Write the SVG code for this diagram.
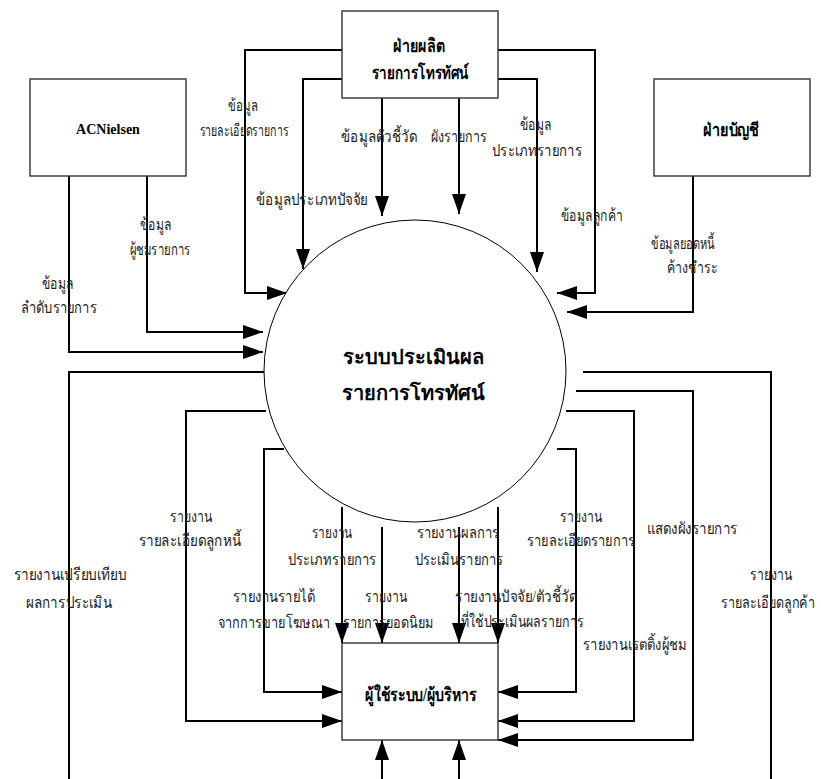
<svg xmlns="http://www.w3.org/2000/svg" width="821" height="779" viewBox="0 0 821 779">
<defs>
<marker id="arr" markerUnits="userSpaceOnUse" markerWidth="20" markerHeight="14" refX="20" refY="7" orient="auto">
<path d="M0,0 L20,7 L0,14 z" fill="#000"/>
</marker>
<style>
.box{fill:#fff;stroke:#333;stroke-width:1.4}
.circ{fill:#fff;stroke:#000;stroke-width:1}
.ln{fill:none;stroke:#000;stroke-width:2;marker-end:url(#arr)}
.ln0{fill:none;stroke:#000;stroke-width:2}
.lbl{font-family:"Liberation Serif","DejaVu Serif",serif;font-size:16px;fill:#222;text-anchor:middle}
.bl{font-family:"Liberation Serif","DejaVu Serif",serif;font-size:18px;font-weight:bold;fill:#000;text-anchor:middle}
.en{font-family:"Liberation Serif","DejaVu Serif",serif;font-size:14px;font-weight:bold;fill:#000;text-anchor:middle}
.ct{font-family:"Noto Sans","DejaVu Sans",sans-serif;font-size:20px;font-weight:bold;fill:#000;text-anchor:middle}
</style>
</defs>
<rect width="821" height="779" fill="#fff"/>
<g id="connectors">
<path class="ln" d="M342,50 H245 V293 H287"/>
<path class="ln" d="M342,79 H303 V269"/>
<path class="ln" d="M382,98 V216"/>
<path class="ln" d="M459,98 V214"/>
<path class="ln" d="M498,79 H537 V272"/>
<path class="ln" d="M498,50 H595 V293 H557"/>
<path class="ln" d="M693,176 V312 H567"/>
<path class="ln" d="M69,176 V352 H263"/>
<path class="ln" d="M147,176 V332 H263"/>
<path class="ln0" d="M265,372 H69 V779"/>
<path class="ln" d="M266,411 H186 V721 H342"/>
<path class="ln" d="M284,449 H264 V692 H342"/>
<path class="ln" d="M342,507 V643"/>
<path class="ln" d="M382,527 V643"/>
<path class="ln" d="M459,527 V643"/>
<path class="ln" d="M498,507 V643"/>
<path class="ln" d="M557,449 H576 V692 H498"/>
<path class="ln" d="M566,411 H634 V721 H498"/>
<path class="ln" d="M576,391 H693 V740 H498"/>
<path class="ln0" d="M583,372 H771 V779"/>
<path class="ln" d="M382,779 V740"/>
<path class="ln" d="M459,779 V740"/>
</g>
<g id="labels">
<text class="lbl" x="243" y="111" textLength="30" lengthAdjust="spacingAndGlyphs">ข้อมูล</text>
<text class="lbl" x="244" y="136" textLength="89" lengthAdjust="spacingAndGlyphs">รายละเอียดรายการ</text>
<text class="lbl" x="379" y="142" textLength="76" lengthAdjust="spacingAndGlyphs">ข้อมูลตัวชี้วัด</text>
<text class="lbl" x="459" y="142" textLength="56" lengthAdjust="spacingAndGlyphs">ผังรายการ</text>
<text class="lbl" x="536" y="130" textLength="32" lengthAdjust="spacingAndGlyphs">ข้อมูล</text>
<text class="lbl" x="537" y="156" textLength="90" lengthAdjust="spacingAndGlyphs">ประเภทรายการ</text>
<text class="lbl" x="312" y="205" textLength="112" lengthAdjust="spacingAndGlyphs">ข้อมูลประเภทปัจจัย</text>
<text class="lbl" x="592" y="221" textLength="62" lengthAdjust="spacingAndGlyphs">ข้อมูลลูกค้า</text>
<text class="lbl" x="156" y="230" textLength="32" lengthAdjust="spacingAndGlyphs">ข้อมูล</text>
<text class="lbl" x="160" y="255" textLength="61" lengthAdjust="spacingAndGlyphs">ผู้ชมรายการ</text>
<text class="lbl" x="58" y="289" textLength="32" lengthAdjust="spacingAndGlyphs">ข้อมูล</text>
<text class="lbl" x="59" y="313" textLength="76" lengthAdjust="spacingAndGlyphs">ลำดับรายการ</text>
<text class="lbl" x="683" y="249" textLength="64" lengthAdjust="spacingAndGlyphs">ข้อมูลยอดหนี้</text>
<text class="lbl" x="692" y="273" textLength="51" lengthAdjust="spacingAndGlyphs">ค้างชำระ</text>
<text class="lbl" x="191" y="522" textLength="42" lengthAdjust="spacingAndGlyphs">รายงาน</text>
<text class="lbl" x="190" y="546" textLength="103" lengthAdjust="spacingAndGlyphs">รายละเอียดลูกหนี้</text>
<text class="lbl" x="332" y="538" textLength="41" lengthAdjust="spacingAndGlyphs">รายงาน</text>
<text class="lbl" x="332" y="565" textLength="89" lengthAdjust="spacingAndGlyphs">ประเภทรายการ</text>
<text class="lbl" x="458" y="538" textLength="83" lengthAdjust="spacingAndGlyphs">รายงานผลการ</text>
<text class="lbl" x="459" y="565" textLength="89" lengthAdjust="spacingAndGlyphs">ประเมินรายการ</text>
<text class="lbl" x="581" y="522" textLength="42" lengthAdjust="spacingAndGlyphs">รายงาน</text>
<text class="lbl" x="581" y="546" textLength="108" lengthAdjust="spacingAndGlyphs">รายละเอียดรายการ</text>
<text class="lbl" x="692" y="534" textLength="91" lengthAdjust="spacingAndGlyphs">แสดงผังรายการ</text>
<text class="lbl" x="70" y="580" textLength="113" lengthAdjust="spacingAndGlyphs">รายงานเปรียบเทียบ</text>
<text class="lbl" x="69" y="608" textLength="86" lengthAdjust="spacingAndGlyphs">ผลการประเมิน</text>
<text class="lbl" x="771" y="580" textLength="42" lengthAdjust="spacingAndGlyphs">รายงาน</text>
<text class="lbl" x="768" y="608" textLength="94" lengthAdjust="spacingAndGlyphs">รายละเอียดลูกค้า</text>
<text class="lbl" x="274" y="602" textLength="82" lengthAdjust="spacingAndGlyphs">รายงานรายได้</text>
<text class="lbl" x="274" y="628" textLength="112" lengthAdjust="spacingAndGlyphs">จากการขายโฆษณา</text>
<text class="lbl" x="386" y="602" textLength="42" lengthAdjust="spacingAndGlyphs">รายงาน</text>
<text class="lbl" x="388" y="628" textLength="91" lengthAdjust="spacingAndGlyphs">รายการยอดนิยม</text>
<text class="lbl" x="516" y="602" textLength="122" lengthAdjust="spacingAndGlyphs">รายงานปัจจัย/ตัวชี้วัด</text>
<text class="lbl" x="522" y="627" textLength="123" lengthAdjust="spacingAndGlyphs">ที่ใช้ประเมินผลรายการ</text>
<text class="lbl" x="635" y="650" textLength="104" lengthAdjust="spacingAndGlyphs">รายงานเรตติ้งผู้ชม</text>
</g>
<g id="production">
<rect class="box" x="342" y="11" width="156" height="87"/>
<text class="bl" x="419" y="52" textLength="52" lengthAdjust="spacingAndGlyphs">ฝ่ายผลิต</text>
<text class="bl" x="420" y="79" textLength="96" lengthAdjust="spacingAndGlyphs">รายการโทรทัศน์</text>
</g>
<g id="acnielsen">
<rect class="box" x="30" y="79" width="156" height="97"/>
<text class="en" x="108" y="134">ACNielsen</text>
</g>
<g id="accounting">
<rect class="box" x="654" y="79" width="156" height="97"/>
<text class="bl" x="731" y="136" textLength="56" lengthAdjust="spacingAndGlyphs">ฝ่ายบัญชี</text>
</g>
<g id="system">
<circle class="circ" cx="415" cy="371" r="151"/>
<text class="ct" x="413" y="364">ระบบประเมินผล</text>
<text class="ct" x="413" y="400">รายการโทรทัศน์</text>
</g>
<g id="users">
<rect class="box" x="342" y="643" width="156" height="97"/>
<text class="bl" x="421" y="701" textLength="112" lengthAdjust="spacingAndGlyphs">ผู้ใช้ระบบ/ผู้บริหาร</text>
</g>
</svg>
